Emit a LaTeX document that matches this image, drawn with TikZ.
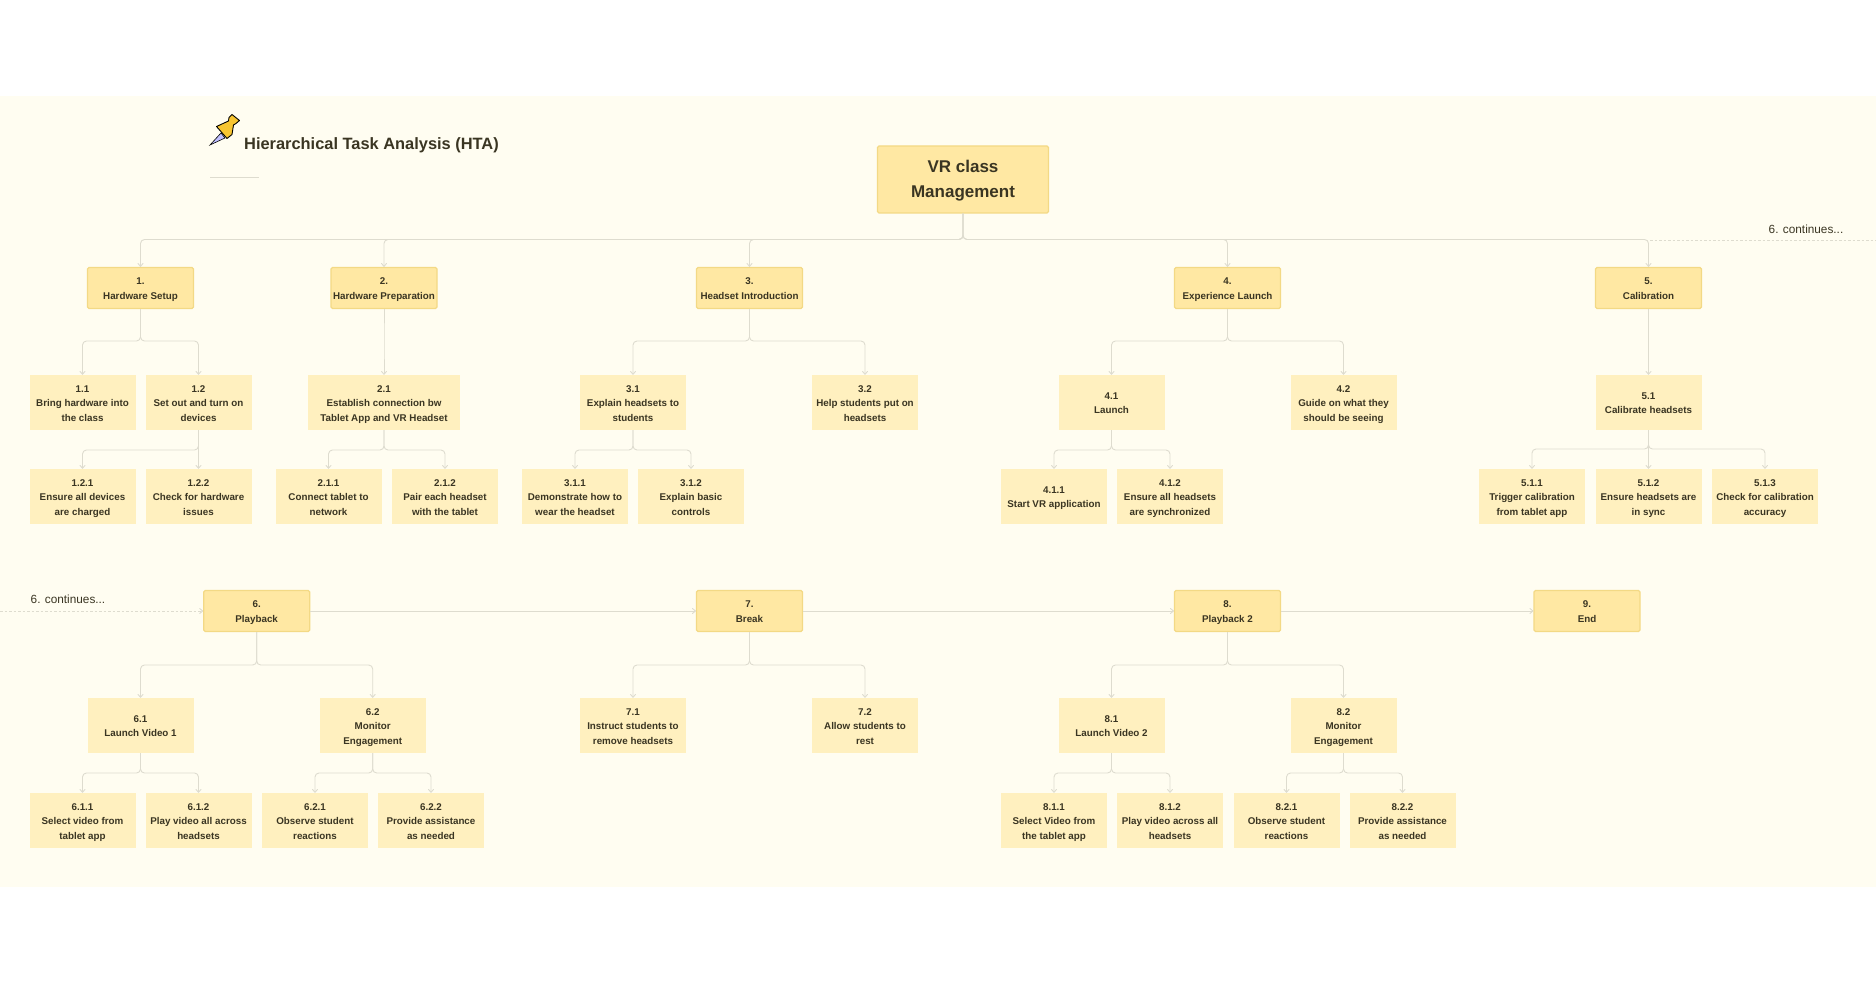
\documentclass[tikz,border=0pt]{standalone}
\usepackage{fontspec}
\setmainfont{Liberation Sans}
\usetikzlibrary{arrows.meta}
\definecolor{panelbg}{HTML}{FFFDF1}
\definecolor{headfill}{HTML}{FFE8A3}
\definecolor{headline}{HTML}{F3D985}
\definecolor{subfill}{HTML}{FFF0BF}
\definecolor{inktext}{HTML}{3A3522}
\definecolor{wire}{HTML}{DEDCCF}
\definecolor{pinyellow}{HTML}{F7C531}
\tikzset{
  x=1pt,y=-1pt,
  boxtext/.style={align=center,text=inktext,inner sep=0pt,font=\fontsize{9.8}{14.6}\selectfont\bfseries},
  headbox/.style={boxtext,draw=headline,line width=1.2pt,fill=headfill,rounded corners=1.5pt,minimum width=106pt,minimum height=41pt},
  subbox/.style={boxtext,fill=subfill,minimum width=106pt,minimum height=55pt},
  widebox/.style={subbox,minimum width=152pt},
  rootbox/.style={headbox,minimum width=171pt,minimum height=67pt,font=\fontsize{17}{25}\selectfont\bfseries},
  conn/.style={draw=wire,line width=0.9pt,rounded corners=4pt,-{Straight Barb[length=3pt,width=5pt,round]}},
  dashconn/.style={conn,dashed,dash pattern=on 2.5pt off 2pt},
  plaintext/.style={text=inktext,inner sep=0pt,font=\fontsize{11.8}{14}\selectfont},
  titletext/.style={text=inktext,inner sep=0pt,anchor=west,font=\fontsize{16.4}{20}\selectfont\bfseries}
}
\newcommand{\linkto}[3]{\draw[conn] (#1.south) -- (#1.south |- 0,#3) -- (#2.north |- 0,#3) -- (#2.north);}
\newcommand{\tx}[2][2.4pt]{\rule{0pt}{\dimexpr\ht\strutbox+#1\relax}#2\strut}
\begin{document}
\begin{tikzpicture}
\useasboundingbox (0,0) rectangle (1876,984);
\fill[white] (0,0) rectangle (1876,984);
\fill[panelbg] (0,96) rectangle (1876,887);
% pushpin
\draw[black,fill=white!75!blue,line width=0.6pt] (210,145) -- (221,133) -- (225,138) -- cycle;
\draw[black,fill=pinyellow,line width=0.9pt,line join=round]
  (216.5,126.5) -- (228.5,121) -- (229,117.5) -- (232,114.5) -- (239.5,120.5) -- (236,123.5) -- (233.5,125) -- (232,134.5) -- (227,138.5) -- cycle;
\node[titletext] (title) at (244,145) {Hierarchical Task Analysis (HTA)};
\coordinate (ruleA) at (210,177);
\coordinate (ruleB) at (259,177);
\draw[wire,line width=0.8pt] (ruleA) -- (ruleB);
% nodes
\node[rootbox] (root) at (963,179.5) {\tx[2pt]{VR class\\Management}};
\node[headbox] (n1) at (140.5,288) {\tx{1.\\Hardware Setup}};
\node[headbox] (n2) at (384,288) {\tx{2.\\Hardware Preparation}};
\node[headbox] (n3) at (749.5,288) {\tx{3.\\Headset Introduction}};
\node[headbox] (n4) at (1227.5,288) {\tx{4.\\Experience Launch}};
\node[headbox] (n5) at (1648.5,288) {\tx{5.\\Calibration}};
\node[subbox] (n11) at (82.5,402.5) {\tx{1.1\\Bring hardware into\\the class}};
\node[subbox] (n12) at (198.5,402.5) {\tx{1.2\\Set out and turn on\\devices}};
\node[subbox] (n121) at (82.5,496.5) {\tx{1.2.1\\Ensure all devices\\are charged}};
\node[subbox] (n122) at (198.5,496.5) {\tx{1.2.2\\Check for hardware\\issues}};
\node[widebox] (n21) at (384,402.5) {\tx{2.1\\Establish connection bw\\Tablet App and VR Headset}};
\node[subbox] (n211) at (328.5,496.5) {\tx{2.1.1\\Connect tablet to\\network}};
\node[subbox] (n212) at (445,496.5) {\tx{2.1.2\\Pair each headset\\with the tablet}};
\node[subbox] (n31) at (633,402.5) {\tx{3.1\\Explain headsets to\\students}};
\node[subbox] (n32) at (865,402.5) {\tx{3.2\\Help students put on\\headsets}};
\node[subbox] (n311) at (575,496.5) {\tx{3.1.1\\Demonstrate how to\\wear the headset}};
\node[subbox] (n312) at (691,496.5) {\tx{3.1.2\\Explain basic\\controls}};
\node[subbox] (n41) at (1111.5,402.5) {\tx{4.1\\Launch}};
\node[subbox] (n42) at (1343.5,402.5) {\tx{4.2\\Guide on what they\\should be seeing}};
\node[subbox] (n411) at (1054,496.5) {\tx{4.1.1\\Start VR application}};
\node[subbox] (n412) at (1170,496.5) {\tx{4.1.2\\Ensure all headsets\\are synchronized}};
\node[subbox] (n51) at (1648.5,402.5) {\tx{5.1\\Calibrate headsets}};
\node[subbox] (n511) at (1532,496.5) {\tx{5.1.1\\Trigger calibration\\from tablet app}};
\node[subbox] (n512) at (1648.5,496.5) {\tx{5.1.2\\Ensure headsets are\\in sync}};
\node[subbox] (n513) at (1765,496.5) {\tx{5.1.3\\Check for calibration\\accuracy}};
\node[headbox] (n6) at (256.7,611) {\tx{6.\\Playback}};
\node[headbox] (n7) at (749.5,611) {\tx{7.\\Break}};
\node[headbox] (n8) at (1227.5,611) {\tx{8.\\Playback 2}};
\node[headbox] (n9) at (1587,611) {\tx{9.\\End}};
\node[subbox] (n61) at (140.5,725.5) {\tx{6.1\\Launch Video 1}};
\node[subbox] (n62) at (372.7,725.5) {\tx{6.2\\Monitor\\Engagement}};
\node[subbox] (n611) at (82.5,820.5) {\tx{6.1.1\\Select video from\\tablet app}};
\node[subbox] (n612) at (198.5,820.5) {\tx{6.1.2\\Play video all across\\headsets}};
\node[subbox] (n621) at (315,820.5) {\tx{6.2.1\\Observe student\\reactions}};
\node[subbox] (n622) at (431,820.5) {\tx{6.2.2\\Provide assistance\\as needed}};
\node[subbox] (n71) at (633,725.5) {\tx{7.1\\Instruct students to\\remove headsets}};
\node[subbox] (n72) at (865,725.5) {\tx{7.2\\Allow students to\\rest}};
\node[subbox] (n81) at (1111.5,725.5) {\tx{8.1\\Launch Video 2}};
\node[subbox] (n82) at (1343.5,725.5) {\tx{8.2\\Monitor\\Engagement}};
\node[subbox] (n811) at (1054,820.5) {\tx{8.1.1\\Select Video from\\the tablet app}};
\node[subbox] (n812) at (1170,820.5) {\tx{8.1.2\\Play video across all\\headsets}};
\node[subbox] (n821) at (1286.5,820.5) {\tx{8.2.1\\Observe student\\reactions}};
\node[subbox] (n822) at (1402.5,820.5) {\tx{8.2.2\\Provide assistance\\as needed}};
\node[plaintext] (contA) at (1806,229) {6. continues...};
\node[plaintext] (contB) at (68,599) {6. continues...};
% connectors
\foreach \c in {n1,n2,n3,n4,n5}{\linkto{root}{\c}{239.5}}
\linkto{n1}{n11}{341}\linkto{n1}{n12}{341}
\linkto{n12}{n121}{450}\linkto{n12}{n122}{450}
\linkto{n2}{n21}{341}
\linkto{n21}{n211}{450}\linkto{n21}{n212}{450}
\linkto{n3}{n31}{341}\linkto{n3}{n32}{341}
\linkto{n31}{n311}{450}\linkto{n31}{n312}{450}
\linkto{n4}{n41}{341}\linkto{n4}{n42}{341}
\linkto{n41}{n411}{450}\linkto{n41}{n412}{450}
\linkto{n5}{n51}{341}
\linkto{n51}{n511}{449}\linkto{n51}{n512}{449}\linkto{n51}{n513}{449}
\linkto{n6}{n61}{665}\linkto{n6}{n62}{665}
\linkto{n7}{n71}{665}\linkto{n7}{n72}{665}
\linkto{n8}{n81}{665}\linkto{n8}{n82}{665}
\linkto{n61}{n611}{773}\linkto{n61}{n612}{773}
\linkto{n62}{n621}{773}\linkto{n62}{n622}{773}
\linkto{n81}{n811}{773}\linkto{n81}{n812}{773}
\linkto{n82}{n821}{773}\linkto{n82}{n822}{773}
\draw[conn] (n6) -- (n7);
\draw[conn] (n7) -- (n8);
\draw[conn] (n8) -- (n9);
\coordinate (edgeR) at (1876,240);
\coordinate (edgeL) at (0,611);
\coordinate (busR) at (1650,240);
\draw[draw=wire,line width=0.9pt,dashed,dash pattern=on 2.5pt off 2pt] (busR) -- (edgeR);
\draw[dashconn] (edgeL) -- (n6);
\end{tikzpicture}
\end{document}
